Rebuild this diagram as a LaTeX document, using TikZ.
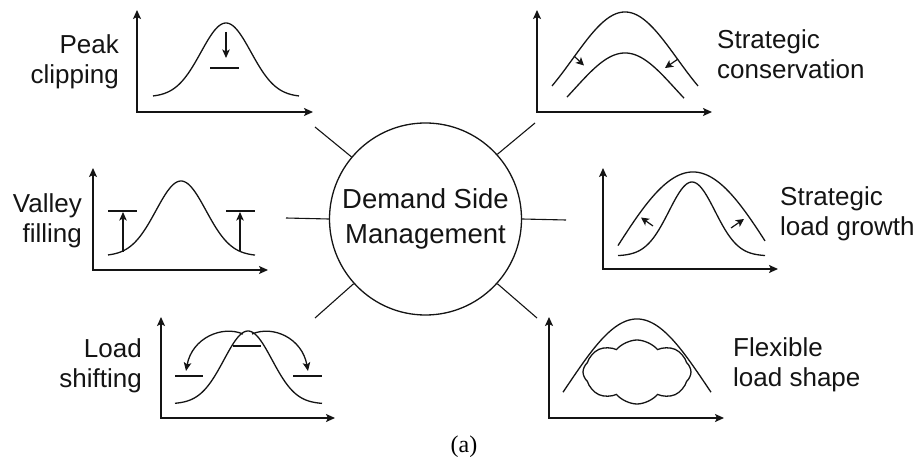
\documentclass[tikz,border=0pt]{standalone}
\usepackage{fontspec}
\setmainfont{Liberation Sans}
\newfontfamily\capfont{Liberation Serif}
\usetikzlibrary{arrows.meta,shapes.symbols}
\begin{document}
\begin{tikzpicture}[x=1pt,y=-1pt,
  declare function={g(\x,\m,\s)=exp(-((\x-\m)/\s)*((\x-\m)/\s)/2);},
  ink/.style={line width=1.3pt, draw=black!92},
  axes/.style={line width=1.5pt, draw=black!92, line join=miter,
    {Stealth[length=9pt,width=8pt,inset=2pt]}-{Stealth[length=9pt,width=8pt,inset=2pt]}},
  spoke/.style={line width=1.1pt, draw=black!92},
  tiparrow/.style={line width=1.3pt, draw=black!92, -{Stealth[length=8.5pt,width=7.5pt,inset=2pt]}},
  minitip/.style={line width=1.2pt, draw=black!92, -{Stealth[length=8pt,width=8pt,inset=2pt]}},
  lbl/.style={font=\fontsize{26}{30}\selectfont, inner sep=0pt, text=black!92},
  hub/.style={circle, draw=black!92, line width=1.3pt, minimum size=192pt, inner sep=0pt,
    align=center, font=\fontsize{27.5}{35}\selectfont, text=black!92}
]
\useasboundingbox (0,0) rectangle (921,457);

% centre
\node[hub] (dsm) at (425.5,219) {Demand Side\\Management};

% spoke ends
\coordinate (eUL) at (315,127);
\coordinate (eUR) at (535,123);
\coordinate (eL)  at (286,218);
\coordinate (eR)  at (566,220);
\coordinate (eLL) at (315,318);
\coordinate (eLR) at (537,318);
\draw[spoke] (dsm.140) -- (eUL);
\draw[spoke] (dsm.42)  -- (eUR);
\draw[spoke] (dsm.180) -- (eL);
\draw[spoke] (dsm.0)   -- (eR);
\draw[spoke] (dsm.222) -- (eLL);
\draw[spoke] (dsm.318) -- (eLR);

% ---------- Peak clipping ----------
\draw[axes] (137,10) -- (137,112) -- (313,112);
\draw[ink] plot[domain=153:299, samples=80, smooth] (\x,{97-74*g(\x,226,25)});
\draw[tiparrow] (226,32) -- (226,58);
\draw[ink] (210,68) -- (239,68);
\node[lbl, anchor=north east, align=right] (tPeak) at (119,34.5) {Peak\\clipping};

% ---------- Valley filling ----------
\draw[axes] (93,168) -- (93,270) -- (268,270);
\draw[ink] plot[domain=108:255, samples=80, smooth] (\x,{256-75*g(\x,181,25)});
\draw[ink] (108,211) -- (137,211);
\draw[ink] (226,211) -- (255,211);
\draw[tiparrow] (123,252) -- (123,212);
\draw[tiparrow] (240,251) -- (240,212);
\node[lbl, anchor=north east, align=right] (tValley) at (82,193.5) {Valley\\filling};

% ---------- Load shifting ----------
\draw[axes] (161,317) -- (161,418) -- (335,418);
\draw[ink] plot[domain=175:322, samples=80, smooth] (\x,{404-73*g(\x,248,24)});
\draw[ink] (175,376) -- (203,376);
\draw[ink] (233,346) -- (261,346);
\draw[ink] (293,376) -- (322,376);
\draw[tiparrow] (243,334) .. controls (222,325) and (192,338) .. (186,371);
\draw[tiparrow] (252,334) .. controls (273,325) and (302,338) .. (308,371);
\node[lbl, anchor=north east, align=right] (tLoad) at (142,338.5) {Load\\shifting};

% ---------- Strategic conservation ----------
\draw[axes] (537,10) -- (537,112) -- (712,112);
\draw[ink] plot[domain=552:698, samples=80, smooth] (\x,{130-118*g(\x,625,52)});
\draw[ink] plot[domain=567:684, samples=80, smooth] (\x,{143-90*g(\x,625,50)});
\draw[minitip] (574,56) -- (584,65.5);
\draw[minitip] (678,59) -- (665,68);
\node[lbl, anchor=north west, align=left] (tCons) at (717,29.5) {Strategic\\conservation};

% ---------- Strategic load growth ----------
\draw[axes] (603,168) -- (603,269) -- (778,269);
\draw[ink] plot[domain=618:765, samples=80, smooth] (\x,{379-207*g(\x,693,80)});
\draw[ink] plot[domain=618:765, samples=80, smooth] (\x,{256-74*g(\x,692,23)});
\draw[minitip] (653,226) -- (641,217.5);
\draw[minitip] (731,228) -- (744,219);
\node[lbl, anchor=north west, align=left] (tGrow) at (780,186.5) {Strategic\\load growth};

% ---------- Flexible load shape ----------
\draw[axes] (549,317) -- (549,418) -- (724,418);
\draw[ink] plot[domain=563:711, samples=80, smooth] (\x,{490-171*g(\x,637,70)});
\node[cloud, draw=black!92, line width=1.3pt, cloud puffs=8, cloud puff arc=100,
  aspect=1.7, minimum width=108pt, minimum height=64pt, inner sep=0pt] (blob) at (637,372) {};
\node[lbl, anchor=north west, align=left] (tFlex) at (733,337.5) {Flexible\\load shape};

% caption
\node[font=\capfont\fontsize{24}{28}\selectfont, anchor=base, inner sep=0pt, text=black] (cap) at (464,452) {(a)};
\end{tikzpicture}
\end{document}
